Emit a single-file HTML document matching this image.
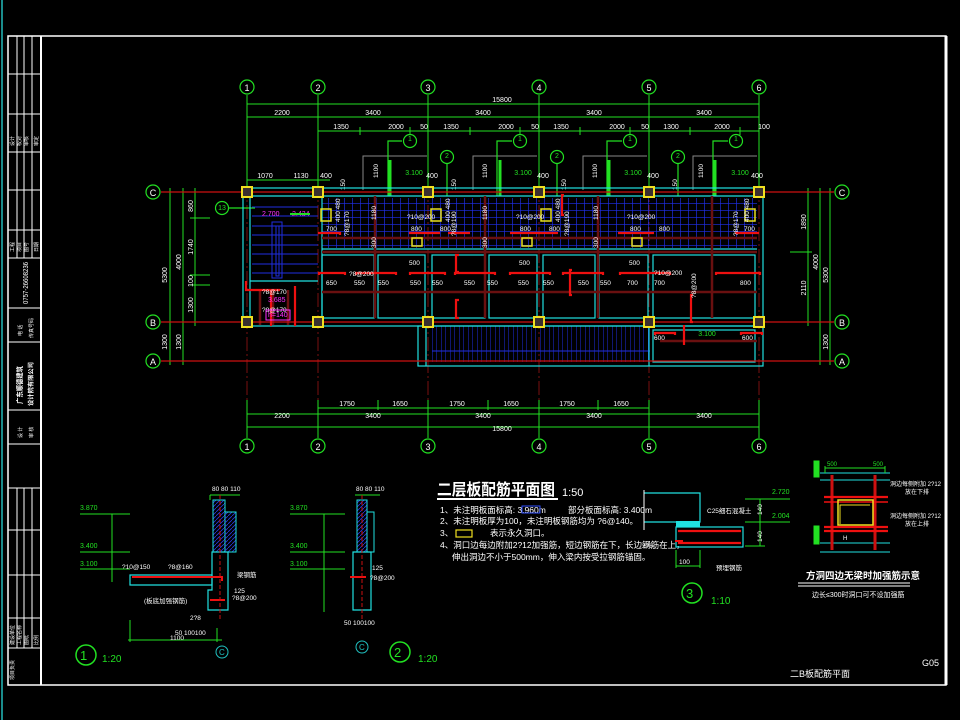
<!DOCTYPE html>
<html><head><meta charset="utf-8"><style>
html,body{margin:0;padding:0;background:#000;}
svg{display:block}
text{font-family:"Liberation Sans","Noto Sans CJK SC",sans-serif;}
</style></head><body>
<svg width="960" height="720" viewBox="0 0 960 720" xmlns="http://www.w3.org/2000/svg">
<defs>
<pattern id="grid" width="8" height="7" patternUnits="userSpaceOnUse"><path d="M0 0V7M0 0H8" stroke="#2030f0" stroke-width="1.3" fill="none"/></pattern>
<pattern id="vstair" width="4.5" height="40" patternUnits="userSpaceOnUse"><path d="M0 0V40" stroke="#1f2ee0" stroke-width="1" fill="none"/></pattern>
<pattern id="hatch" width="4" height="4" patternUnits="userSpaceOnUse"><path d="M0 4L4 0" stroke="#2a3ae0" stroke-width="0.8"/></pattern>
</defs>
<rect width="960" height="720" fill="#000"/>
<!-- borders -->
<line x1="2" y1="0" x2="2" y2="720" stroke="#1a8c8c" stroke-width="2"/>
<rect x="8" y="36" width="938" height="649" fill="none" stroke="#fff" stroke-width="1.5"/>
<line x1="41" y1="36" x2="41" y2="685" stroke="#fff" stroke-width="2"/>
<line x1="946" y1="36" x2="946" y2="685" stroke="#fff" stroke-width="3"/>
<g stroke="#fff" stroke-width="1">
<line x1="17" y1="36" x2="17" y2="258"/><line x1="24" y1="36" x2="24" y2="258"/><line x1="32" y1="36" x2="32" y2="258"/>
<line x1="8" y1="74" x2="41" y2="74"/><line x1="8" y1="114" x2="41" y2="114"/><line x1="8" y1="152" x2="41" y2="152"/><line x1="8" y1="190" x2="41" y2="190"/><line x1="8" y1="230" x2="41" y2="230"/><line x1="8" y1="258" x2="41" y2="258"/><line x1="8" y1="308" x2="41" y2="308"/><line x1="8" y1="342" x2="41" y2="342"/><line x1="8" y1="410" x2="41" y2="410"/><line x1="8" y1="444" x2="41" y2="444"/><line x1="8" y1="488" x2="41" y2="488"/>
<line x1="17" y1="488" x2="17" y2="648"/><line x1="24" y1="488" x2="24" y2="648"/><line x1="32" y1="488" x2="32" y2="648"/>
<line x1="8" y1="530" x2="41" y2="530"/><line x1="8" y1="575" x2="41" y2="575"/><line x1="8" y1="618" x2="41" y2="618"/><line x1="8" y1="648" x2="41" y2="648"/>
</g>
<g fill="#fff" font-size="5">
<text transform="translate(28,304) rotate(-90)" font-size="7" textLength="42" lengthAdjust="spacingAndGlyphs">0757-26608236</text>
<text transform="translate(22,404) rotate(-90)" font-size="7" font-weight="bold" textLength="38" lengthAdjust="spacingAndGlyphs">广东顺德建筑</text>
<text transform="translate(33,406) rotate(-90)" font-size="6" font-weight="bold" textLength="44" lengthAdjust="spacingAndGlyphs">设计院有限公司</text>
<text transform="translate(22,336) rotate(-90)">电 话</text><text transform="translate(33,338) rotate(-90)">传真号码</text>
<text transform="translate(22,438) rotate(-90)">设 计</text><text transform="translate(33,438) rotate(-90)">审 核</text>
<text transform="translate(14,146) rotate(-90)">设计</text><text transform="translate(21,146) rotate(-90)">校对</text><text transform="translate(28,146) rotate(-90)">审核</text><text transform="translate(38,146) rotate(-90)">审定</text>
<text transform="translate(14,252) rotate(-90)">工程</text><text transform="translate(21,252) rotate(-90)">项目</text><text transform="translate(28,252) rotate(-90)">图号</text><text transform="translate(38,252) rotate(-90)">日期</text>
<text transform="translate(14,645) rotate(-90)">建设单位</text><text transform="translate(21,645) rotate(-90)">工程名称</text><text transform="translate(28,645) rotate(-90)">图纸</text><text transform="translate(38,645) rotate(-90)">比例</text>
<text transform="translate(14,680) rotate(-90)">项目负责</text>
</g>

<!-- axis lines (dark red) -->
<g stroke="#7a1010" stroke-width="1" stroke-dasharray="14,3,2,3">
<line x1="247" y1="95" x2="247" y2="438"/><line x1="318" y1="95" x2="318" y2="438"/><line x1="428" y1="95" x2="428" y2="438"/><line x1="539" y1="95" x2="539" y2="438"/><line x1="649" y1="95" x2="649" y2="438"/><line x1="759" y1="95" x2="759" y2="438"/>
</g>

<!-- dimension lines -->
<g stroke="#22e022" stroke-width="1" fill="none">
<line x1="247" y1="104" x2="759" y2="104"/><line x1="247" y1="117" x2="759" y2="117"/><line x1="318" y1="131" x2="759" y2="131"/>
<line x1="247" y1="180" x2="330" y2="180"/>
<line x1="318" y1="408" x2="649" y2="408"/><line x1="247" y1="414" x2="759" y2="414"/><line x1="247" y1="427" x2="759" y2="427"/>
<line x1="247" y1="95" x2="247" y2="186"/><line x1="318" y1="95" x2="318" y2="186"/><line x1="428" y1="95" x2="428" y2="186"/><line x1="539" y1="95" x2="539" y2="186"/><line x1="649" y1="95" x2="649" y2="186"/><line x1="759" y1="95" x2="759" y2="186"/>
<line x1="247" y1="400" x2="247" y2="438"/><line x1="318" y1="400" x2="318" y2="438"/><line x1="428" y1="400" x2="428" y2="438"/><line x1="539" y1="400" x2="539" y2="438"/><line x1="649" y1="400" x2="649" y2="438"/><line x1="759" y1="400" x2="759" y2="438"/>
<line x1="378" y1="400" x2="378" y2="410"/><line x1="488" y1="400" x2="488" y2="410"/><line x1="598" y1="400" x2="598" y2="410"/>
<line x1="360" y1="127" x2="360" y2="135"/><line x1="410" y1="127" x2="410" y2="135"/><line x1="470" y1="127" x2="470" y2="135"/><line x1="520" y1="127" x2="520" y2="135"/><line x1="580" y1="127" x2="580" y2="135"/><line x1="630" y1="127" x2="630" y2="135"/><line x1="690" y1="127" x2="690" y2="135"/><line x1="740" y1="127" x2="740" y2="135"/>
<line x1="170" y1="188" x2="170" y2="365"/><line x1="183" y1="188" x2="183" y2="365"/><line x1="195" y1="188" x2="195" y2="326"/>
<line x1="161" y1="192" x2="215" y2="192"/><line x1="161" y1="322" x2="215" y2="322"/><line x1="161" y1="361" x2="215" y2="361"/>
<line x1="190" y1="218" x2="210" y2="218"/><line x1="190" y1="275" x2="210" y2="275"/><line x1="190" y1="285" x2="210" y2="285"/>
<line x1="808" y1="188" x2="808" y2="326"/><line x1="820" y1="188" x2="820" y2="365"/><line x1="830" y1="188" x2="830" y2="365"/>
<line x1="790" y1="192" x2="834" y2="192"/><line x1="790" y1="322" x2="834" y2="322"/><line x1="790" y1="361" x2="834" y2="361"/>
<line x1="790" y1="252" x2="812" y2="252"/>
</g>
<g fill="#fff" font-size="7" text-anchor="middle">
<text x="502" y="102">15800</text>
<text x="282" y="115">2200</text><text x="373" y="115">3400</text><text x="483" y="115">3400</text><text x="594" y="115">3400</text><text x="704" y="115">3400</text>
<text x="341" y="129">1350</text><text x="396" y="129">2000</text><text x="424" y="129">50</text><text x="451" y="129">1350</text><text x="506" y="129">2000</text><text x="535" y="129">50</text><text x="561" y="129">1350</text><text x="617" y="129">2000</text><text x="645" y="129">50</text><text x="671" y="129">1300</text><text x="722" y="129">2000</text><text x="764" y="129">100</text>
<text x="265" y="178">1070</text><text x="301" y="178">1130</text><text x="326" y="178">400</text><text x="432" y="178">400</text><text x="543" y="178">400</text><text x="653" y="178">400</text><text x="757" y="178">400</text>
<text x="347" y="406">1750</text><text x="400" y="406">1650</text><text x="457" y="406">1750</text><text x="511" y="406">1650</text><text x="567" y="406">1750</text><text x="621" y="406">1650</text>
<text x="282" y="418">2200</text><text x="373" y="418">3400</text><text x="483" y="418">3400</text><text x="594" y="418">3400</text><text x="704" y="418">3400</text>
<text x="502" y="431">15800</text>
<text transform="translate(167,275) rotate(-90)">5300</text><text transform="translate(181,262) rotate(-90)">4000</text><text transform="translate(167,342) rotate(-90)">1300</text><text transform="translate(181,342) rotate(-90)">1300</text>
<text transform="translate(193,206) rotate(-90)">860</text><text transform="translate(193,247) rotate(-90)">1740</text><text transform="translate(193,281) rotate(-90)">100</text><text transform="translate(193,305) rotate(-90)">1300</text>
<text transform="translate(806,222) rotate(-90)">1890</text><text transform="translate(806,288) rotate(-90)">2110</text><text transform="translate(818,262) rotate(-90)">4000</text><text transform="translate(828,275) rotate(-90)">5300</text><text transform="translate(828,342) rotate(-90)">1300</text>
</g>

<!-- axis bubbles -->
<g stroke="#22e022" stroke-width="1.2" fill="#000">
<circle cx="247" cy="87" r="7"/><circle cx="318" cy="87" r="7"/><circle cx="428" cy="87" r="7"/><circle cx="539" cy="87" r="7"/><circle cx="649" cy="87" r="7"/><circle cx="759" cy="87" r="7"/>
<circle cx="247" cy="446" r="7"/><circle cx="318" cy="446" r="7"/><circle cx="428" cy="446" r="7"/><circle cx="539" cy="446" r="7"/><circle cx="649" cy="446" r="7"/><circle cx="759" cy="446" r="7"/>
<circle cx="153" cy="192" r="7"/><circle cx="153" cy="322" r="7"/><circle cx="153" cy="361" r="7"/>
<circle cx="842" cy="192" r="7"/><circle cx="842" cy="322" r="7"/><circle cx="842" cy="361" r="7"/>
</g>
<g fill="#fff" font-size="9" text-anchor="middle">
<text x="247" y="91">1</text><text x="318" y="91">2</text><text x="428" y="91">3</text><text x="539" y="91">4</text><text x="649" y="91">5</text><text x="759" y="91">6</text>
<text x="247" y="450">1</text><text x="318" y="450">2</text><text x="428" y="450">3</text><text x="539" y="450">4</text><text x="649" y="450">5</text><text x="759" y="450">6</text>
<text x="153" y="196">C</text><text x="153" y="326">B</text><text x="153" y="365">A</text>
<text x="842" y="196">C</text><text x="842" y="326">B</text><text x="842" y="365">A</text>
</g>

<!-- balcony outlines and section markers -->
<g stroke="#888" stroke-width="1" fill="none">
<path d="M363 190V156H427"/><path d="M473 190V156H537"/><path d="M583 190V156H647"/><path d="M693 190V156H757"/>
</g>
<g stroke="#22e022" stroke-width="1.2" fill="none">
<circle cx="410" cy="141" r="6.5"/><circle cx="520" cy="141" r="6.5"/><circle cx="630" cy="141" r="6.5"/><circle cx="736" cy="141" r="6.5"/>
<circle cx="447" cy="157" r="6.5"/><circle cx="557" cy="157" r="6.5"/><circle cx="678" cy="157" r="6.5"/>
<circle cx="222" cy="208" r="6.5"/>
<path d="M402 141H388V196M512 141H497V196M622 141H607V196M728 141H713V196"/>
<path d="M447 164V196M557 164V196M678 164V196M229 208H255"/>
</g>
<g stroke="#22e022" stroke-width="3"><line x1="390" y1="160" x2="390" y2="196"/><line x1="500" y1="160" x2="500" y2="196"/><line x1="609" y1="160" x2="609" y2="196"/><line x1="715" y1="160" x2="715" y2="196"/></g>
<g fill="#22e022" font-size="7" text-anchor="middle">
<text x="410" y="141">1</text><text x="520" y="141">1</text><text x="630" y="141">1</text><text x="736" y="141">1</text>
<text x="447" y="158">2</text><text x="557" y="158">2</text><text x="678" y="158">2</text><text x="222" y="210">13</text>
<text x="414" y="175">3.100</text><text x="523" y="175">3.100</text><text x="633" y="175">3.100</text><text x="740" y="175">3.100</text>
<text x="707" y="336">3.100</text>
</g>
<g fill="#fff" font-size="6.5">
<text transform="translate(378,178) rotate(-90)">1100</text><text transform="translate(487,178) rotate(-90)">1100</text><text transform="translate(597,178) rotate(-90)">1100</text><text transform="translate(703,178) rotate(-90)">1100</text>
<text transform="translate(345,190) rotate(-90)">150</text><text transform="translate(456,190) rotate(-90)">150</text><text transform="translate(566,190) rotate(-90)">150</text><text transform="translate(677,190) rotate(-90)">150</text>
</g>

<!-- building -->
<rect x="322" y="198" width="435" height="50" fill="url(#grid)"/>
<rect x="432" y="326" width="218" height="36" fill="url(#vstair)"/>
<g stroke="#1f2ee0" stroke-width="1">
<line x1="252" y1="207" x2="318" y2="207"/><line x1="252" y1="216" x2="318" y2="216"/><line x1="252" y1="226" x2="318" y2="226"/><line x1="252" y1="235" x2="318" y2="235"/><line x1="252" y1="245" x2="318" y2="245"/><line x1="252" y1="254" x2="318" y2="254"/><line x1="252" y1="264" x2="318" y2="264"/><line x1="252" y1="273" x2="318" y2="273"/>
<rect x="272" y="222" width="10" height="56" fill="none"/><rect x="276" y="226" width="3" height="50" fill="none"/>
<line x1="432" y1="351" x2="650" y2="351"/>
</g>
<g stroke="#20e0e0" stroke-width="1.2" fill="none">
<rect x="243" y="188" width="520" height="138"/>
<line x1="247" y1="196" x2="759" y2="196"/><line x1="322" y1="196" x2="322" y2="318"/>
<line x1="322" y1="249" x2="757" y2="249"/><line x1="250" y1="196" x2="250" y2="322"/>
<line x1="250" y1="281" x2="318" y2="281"/>
<rect x="322" y="255" width="52" height="63"/><rect x="378" y="255" width="47" height="63"/><rect x="432" y="255" width="53" height="63"/><rect x="489" y="255" width="48" height="63"/><rect x="543" y="255" width="52" height="63"/><rect x="599" y="255" width="49" height="63"/><rect x="653" y="255" width="102" height="63"/>
<rect x="418" y="326" width="345" height="40"/><line x1="426" y1="326" x2="426" y2="366"/><line x1="649" y1="326" x2="649" y2="366"/>
<rect x="653" y="330" width="102" height="32"/>
</g>
<g stroke="#6a1010" stroke-width="2.5">
<line x1="322" y1="238" x2="757" y2="238"/><line x1="322" y1="252" x2="757" y2="252"/><line x1="322" y1="292" x2="757" y2="292"/><line x1="660" y1="341" x2="757" y2="341"/>
<line x1="375" y1="196" x2="375" y2="318"/><line x1="485" y1="196" x2="485" y2="318"/><line x1="598" y1="196" x2="598" y2="318"/><line x1="712" y1="196" x2="712" y2="318"/>
<line x1="260" y1="290" x2="260" y2="325"/><line x1="273" y1="290" x2="273" y2="325"/><line x1="288" y1="290" x2="288" y2="325"/>
</g>
<g stroke="#cc1010" stroke-width="1.2"><line x1="161" y1="192" x2="834" y2="192"/><line x1="161" y1="322" x2="834" y2="322"/><line x1="161" y1="361" x2="834" y2="361"/></g>
<g stroke="#ee1010" stroke-width="2.2" fill="none">
<path d="M318 233H340v2"/><path d="M409 233H440"/><path d="M448 233H470"/><path d="M510 233H558"/><path d="M618 233H654"/><path d="M735 233H759"/>
<path d="M319 275V273H345V275"/><path d="M356 275V273H396V275"/><path d="M410 275V273H445V275"/><path d="M455 275V273H495V275"/><path d="M510 275V273H550V275"/><path d="M563 275V273H603V275"/><path d="M620 275V273H670V275"/><path d="M716 275V273H760V275"/>
<path d="M655 335V333H675V335"/><path d="M741 335V333H762V335"/>
<path d="M459 255H456V272H459"/><path d="M459 300H456V318H459"/><path d="M572 270H570V295H572"/><path d="M693 295H691V322H693"/><path d="M684 345V325"/>
<path d="M246 281V290H280"/><path d="M271 290V326"/><path d="M295 286V326"/>
<path d="M564 195H562V215H564"/>
</g>
<g stroke="#e8e020" stroke-width="1.5" fill="none">
<rect x="321" y="209" width="10" height="12"/><rect x="431" y="209" width="10" height="12"/><rect x="541" y="209" width="10" height="12"/><rect x="745" y="209" width="10" height="12"/>
<rect x="412" y="238" width="10" height="8"/><rect x="522" y="238" width="10" height="8"/><rect x="632" y="238" width="10" height="8"/>
</g>
<g fill="#3a3030" stroke="#f0e020" stroke-width="2">
<rect x="242" y="187" width="10" height="10"/><rect x="313" y="187" width="10" height="10"/><rect x="423" y="187" width="10" height="10"/><rect x="534" y="187" width="10" height="10"/><rect x="644" y="187" width="10" height="10"/><rect x="754" y="187" width="10" height="10"/>
<rect x="242" y="317" width="10" height="10"/><rect x="313" y="317" width="10" height="10"/><rect x="423" y="317" width="10" height="10"/><rect x="534" y="317" width="10" height="10"/><rect x="644" y="317" width="10" height="10"/><rect x="754" y="317" width="10" height="10"/>
</g>
<g fill="#fff" font-size="6.5">
<text x="326" y="231">700</text><text x="411" y="231">800</text><text x="440" y="231">800</text><text x="520" y="231">800</text><text x="549" y="231">800</text><text x="630" y="231">800</text><text x="659" y="231">800</text><text x="744" y="231">700</text>
<text x="407" y="219">?10@200</text><text x="516" y="219">?10@200</text><text x="627" y="219">?10@200</text>
<text x="326" y="285">650</text><text x="354" y="285">550</text><text x="378" y="285">550</text><text x="410" y="285">550</text><text x="432" y="285">550</text><text x="464" y="285">550</text><text x="487" y="285">550</text><text x="518" y="285">550</text><text x="543" y="285">550</text><text x="578" y="285">550</text><text x="600" y="285">550</text><text x="627" y="285">700</text><text x="654" y="285">700</text><text x="740" y="285">800</text>
<text x="349" y="276">?8@200</text><text x="654" y="275">?10@200</text>
<text x="409" y="265">500</text><text x="519" y="265">500</text><text x="629" y="265">500</text>
<text x="654" y="340">600</text><text x="742" y="340">600</text>
<text transform="translate(349,236) rotate(-90)">?8@170</text><text transform="translate(456,236) rotate(-90)">?8@190</text><text transform="translate(569,236) rotate(-90)">?8@190</text><text transform="translate(738,236) rotate(-90)">?8@170</text>
<text transform="translate(340,222) rotate(-90)">400 480</text><text transform="translate(450,222) rotate(-90)">400 480</text><text transform="translate(560,222) rotate(-90)">400 480</text><text transform="translate(749,222) rotate(-90)">400 480</text>
<text transform="translate(376,220) rotate(-90)">1180</text><text transform="translate(487,220) rotate(-90)">1180</text><text transform="translate(598,220) rotate(-90)">1180</text>
<text transform="translate(376,248) rotate(-90)">300</text><text transform="translate(487,248) rotate(-90)">300</text><text transform="translate(598,248) rotate(-90)">300</text>
<text x="262" y="294">?8@170</text><text x="262" y="312">?8@170</text>
<text transform="translate(696,298) rotate(-90)">?8@200</text>
</g>
<g fill="#ff30ff" font-size="7"><text x="262" y="216">2.700</text><text x="292" y="216">2.434</text><text x="268" y="302">3.685</text><text x="268" y="317">h=140</text></g>
<rect x="266" y="310" width="24" height="10" fill="none" stroke="#ff30ff"/>
<line x1="290" y1="214" x2="310" y2="214" stroke="#22e022" stroke-width="2"/>

<!-- title and notes -->
<text x="437" y="495" fill="#fff" font-size="16" font-weight="bold" textLength="118" lengthAdjust="spacingAndGlyphs">二层板配筋平面图</text>
<line x1="437" y1="499" x2="558" y2="499" stroke="#fff" stroke-width="2"/>
<text x="562" y="496" fill="#fff" font-size="11">1:50</text>
<g fill="#fff" font-size="8.5">
<text x="440" y="513">1、未注明板面标高: 3.960m</text><text x="568" y="513">部分板面标高: 3.400m</text>
<rect x="522" y="506" width="18" height="7" fill="none" stroke="#3050ff"/>
<text x="440" y="524">2、未注明板厚为100，未注明板钢筋均为 ?6@140。</text>
<text x="440" y="536">3、</text><text x="490" y="536">表示永久洞口。</text>
<text x="440" y="548">4、洞口边每边附加2?12加强筋，短边钢筋在下，长边钢筋在上，</text>
<text x="452" y="560">伸出洞边不小于500mm，伸入梁内按受拉钢筋锚固。</text>
</g>
<rect x="456" y="530" width="16" height="7" fill="none" stroke="#f0e020" stroke-width="1.2"/>

<!-- detail 1 / 2 -->
<g stroke="#22e022" stroke-width="1" fill="none">
<path d="M80 514H130M80 552H130M80 569H130"/><path d="M112 514V582"/>
<path d="M128 640H222M130 620V642M217 628V642"/>
<path d="M210 495H240M210 495V500"/>
<path d="M355 495H380"/>
<path d="M290 514H345M290 552H345M290 569H345M324 514V612"/>
</g>
<g fill="#22e022" font-size="7">
<text x="80" y="510">3.870</text><text x="80" y="548">3.400</text><text x="80" y="566">3.100</text>
<text x="290" y="510">3.870</text><text x="290" y="548">3.400</text><text x="290" y="566">3.100</text>
</g>
<rect x="213" y="500" width="12" height="52" fill="url(#hatch)" stroke="#20e0e0"/>
<path d="M225 512H236V552H225" fill="url(#hatch)" stroke="#20e0e0"/>
<path d="M212 552H228V610H208V590H212Z" fill="none" stroke="#20e0e0" stroke-width="1.2"/>
<path d="M130 575H212V585H130Z" fill="none" stroke="#20e0e0" stroke-width="1.2"/>
<path d="M132 577H222V581" fill="none" stroke="#ee1010" stroke-width="2"/>
<path d="M210 600H225" stroke="#ee1010" stroke-width="2"/>
<line x1="220" y1="495" x2="220" y2="620" stroke="#cc1010" stroke-dasharray="4,2"/>
<rect x="357" y="500" width="10" height="52" fill="url(#hatch)" stroke="#20e0e0"/>
<path d="M367 512H374V552H367" fill="none" stroke="#20e0e0"/>
<path d="M353 552H371V610H353Z" fill="none" stroke="#20e0e0" stroke-width="1.2"/>
<path d="M350 577H366" stroke="#ee1010" stroke-width="2"/>
<line x1="362" y1="495" x2="362" y2="620" stroke="#cc1010" stroke-dasharray="4,2"/>
<g fill="#fff" font-size="6.5">
<text x="122" y="569">?10@150</text><text x="168" y="569">?8@160</text><text x="144" y="603">(板底加强钢筋)</text><text x="232" y="600">?8@200</text><text x="234" y="593">125</text><text x="190" y="620">2?8</text><text x="175" y="635">50 100100</text><text x="170" y="640">1100</text>
<text x="212" y="491">80 80 110</text><text x="356" y="491">80 80 110</text>
<text x="370" y="580">?8@200</text><text x="372" y="570">125</text><text x="344" y="625">50 100100</text>
<text x="237" y="577">梁钢筋</text>
</g>
<g stroke="#22e022" stroke-width="1.5" fill="none"><circle cx="86" cy="655" r="10"/><circle cx="400" cy="652" r="10"/></g>
<g stroke="#20c0c0" fill="none"><circle cx="222" cy="652" r="6"/><circle cx="362" cy="647" r="6"/></g>
<g fill="#22e022" font-size="13"><text x="80" y="660">1</text><text x="394" y="657">2</text></g>
<g fill="#22e022" font-size="10"><text x="102" y="662">1:20</text><text x="418" y="662">1:20</text></g>
<g fill="#20c0c0" font-size="8"><text x="219" y="655">C</text><text x="359" y="650">C</text></g>

<!-- detail 3 -->
<path d="M644 493H700V522H644" fill="none" stroke="#20e0e0" stroke-width="1.2"/>
<line x1="644" y1="490" x2="644" y2="530" stroke="#fff"/>
<rect x="676" y="521" width="24" height="6" fill="#20e0e0"/>
<rect x="676" y="527" width="67" height="20" fill="none" stroke="#20e0e0" stroke-width="1.2"/>
<path d="M678 531H741M678 543H741" stroke="#ee1010" stroke-width="2.2"/>
<path d="M675 541H683" stroke="#ee1010" stroke-width="2"/>
<g stroke="#22e022" fill="none"><path d="M760 499V546M745 499H790M745 522H790M745 546H765M676 566H700M676 550V568M700 550V568"/></g>
<g fill="#22e022" font-size="7"><text x="772" y="494">2.720</text><text x="772" y="518">2.004</text></g>
<g fill="#fff" font-size="6.5"><text x="707" y="513">C25细石混凝土</text><text x="642" y="548">2?8</text><text x="679" y="564">100</text><text x="716" y="570">预埋钢筋</text><text transform="translate(762,515) rotate(-90)">140</text><text transform="translate(762,542) rotate(-90)">140</text></g>
<circle cx="692" cy="593" r="10" stroke="#22e022" stroke-width="1.5" fill="none"/>
<text x="686" y="598" fill="#22e022" font-size="13">3</text>
<text x="711" y="604" fill="#22e022" font-size="10">1:10</text>

<!-- right detail -->
<g stroke="#20e0e0" fill="none"><path d="M820 473H890M820 480H890M820 543H890M820 552H890"/></g>
<g stroke="#22e022" fill="none"><path d="M825 468H885M825 466V473M885 466V473"/><rect x="814" y="461" width="5" height="16" fill="#22e022"/><rect x="814" y="526" width="5" height="18" fill="#22e022"/></g>
<g fill="#22e022" font-size="6"><text x="827" y="466">500</text><text x="873" y="466">500</text></g>
<path d="M832 475V550M875 475V550" stroke="#cc1010" stroke-width="3"/>
<path d="M824 497H888M824 527H888M824 531H888" stroke="#ee1010" stroke-width="2.2"/>
<path d="M824 502H888" stroke="#ee1010" stroke-width="1.5"/>
<rect x="838" y="500" width="35" height="25" fill="none" stroke="#f0e020" stroke-width="1.5"/>
<path d="M840 524V505H870" fill="none" stroke="#f0e020"/>
<g fill="#fff" font-size="6"><text x="890" y="486">洞边每侧附加 2?12</text><text x="905" y="494">放在下排</text><text x="890" y="518">洞边每侧附加 2?12</text><text x="905" y="526">放在上排</text><text x="843" y="540">H</text></g>
<text x="806" y="579" fill="#fff" font-size="9.5" font-weight="bold">方洞四边无梁时加强筋示意</text>
<path d="M798 583H910M798 586H910" stroke="#fff"/>
<text x="812" y="597" fill="#fff" font-size="7">边长≤300时洞口可不设加强筋</text>
<text x="790" y="677" fill="#fff" font-size="9">二B板配筋平面</text>
<text x="922" y="666" fill="#fff" font-size="9">G05</text>
</svg>
</body></html>
